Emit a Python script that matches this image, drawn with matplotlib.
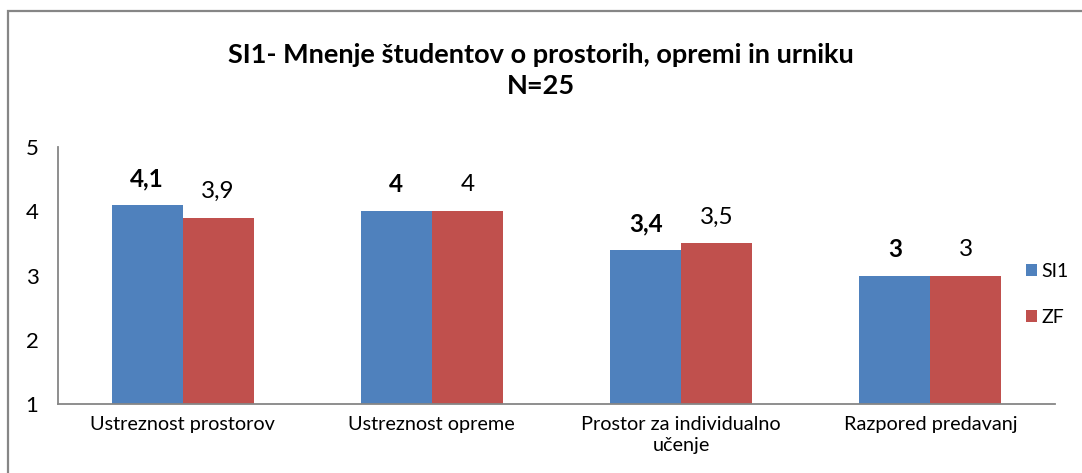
import numpy as np
import matplotlib.pyplot as plt
from matplotlib.patches import Rectangle

plt.rcParams['font.family'] = ['Lato', 'DejaVu Sans']

# Data
categories = ["Ustreznost prostorov", "Ustreznost opreme",
              "Prostor za individualno\nučenje", "Razpored predavanj"]
si1 = [4.1, 4.0, 3.4, 3.0]
zf = [3.9, 4.0, 3.5, 3.0]
si1_labels = ["4,1", "4", "3,4", "3"]
zf_labels = ["3,9", "4", "3,5", "3"]
yticks = [1, 2, 3, 4, 5]

fig = plt.figure(figsize=(10.82, 4.73), dpi=100)
ax = fig.add_axes([0.0536, 0.146, 0.9214, 0.543])

# outer chart frame
fig.patches.append(Rectangle((8 / 1082, -0.1), 1.2, (473 - 11) / 473 + 0.1,
                             transform=fig.transFigure, fill=False,
                             edgecolor="#868686", linewidth=1.6))

x = np.arange(len(categories))
w = 0.285
ax.bar(x - w / 2, [v - 1 for v in si1], w, bottom=1, color="#4F81BD", label="SI1")
ax.bar(x + w / 2, [v - 1 for v in zf], w, bottom=1, color="#C0504D", label="ZF")

for xi, v, t in zip(x, si1, si1_labels):
    ax.annotate(t, (xi - w / 2, v), xytext=(0, 19), textcoords="offset points",
                ha="center", va="center", fontsize=17.5, fontweight="bold")
for xi, v, t in zip(x, zf, zf_labels):
    ax.annotate(t, (xi + w / 2, v), xytext=(0, 19), textcoords="offset points",
                ha="center", va="center", fontsize=17.5)

ax.set_xlim(-0.5, len(categories) - 0.5)
ax.set_ylim(1, 5)
ax.set_yticks(yticks)
ax.set_xticks(x)
ax.set_xticklabels(categories, fontsize=14.3, linespacing=1.25)
ax.tick_params(axis="both", length=0)
ax.tick_params(axis="x", pad=9)
ax.tick_params(axis="y", pad=14, labelsize=16)

for s in ["top", "right"]:
    ax.spines[s].set_visible(False)
for s in ["left", "bottom"]:
    ax.spines[s].set_color("#868686")
    ax.spines[s].set_linewidth(1.3)

fig.text(0.5, 0.852, "SI1- Mnenje študentov o prostorih, opremi in urniku\nN=25",
         ha="center", va="center", fontsize=19.5, fontweight="bold", linespacing=1.35)

ax.legend(loc="center left", bbox_to_anchor=(0.932, 0.378),
          bbox_transform=fig.transFigure, frameon=False, fontsize=14,
          handlelength=0.55, handleheight=0.55, handletextpad=0.25, labelspacing=1.5)

fig.savefig("out.png", dpi=100)
